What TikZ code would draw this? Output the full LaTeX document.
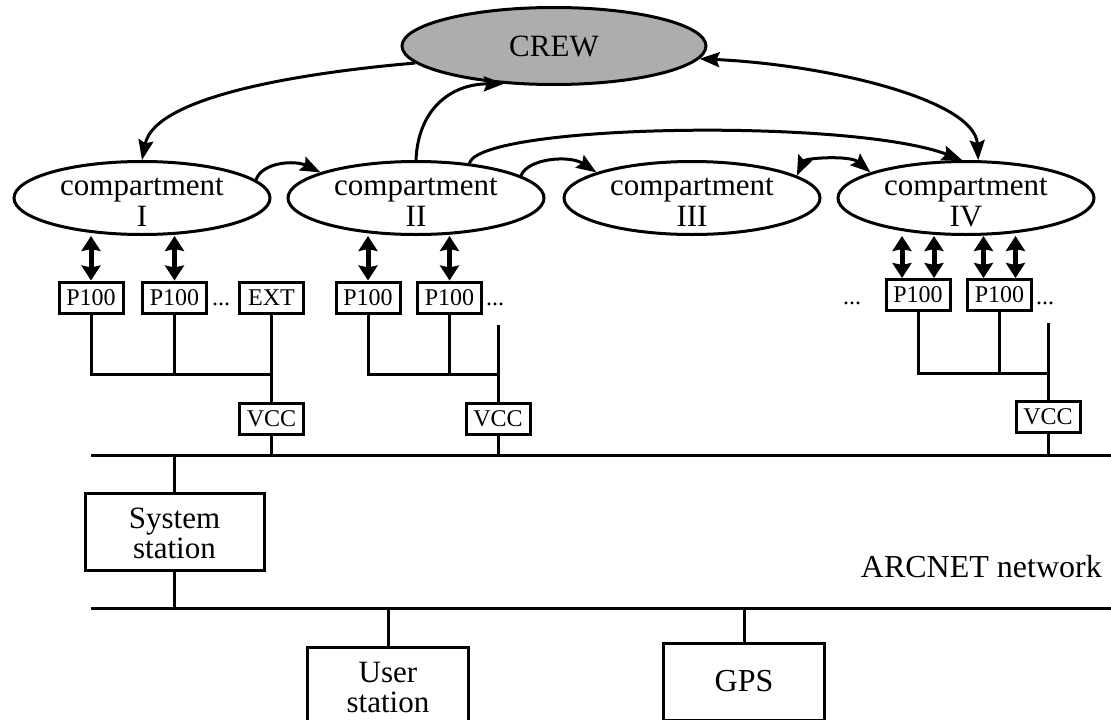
\documentclass[tikz,border=0pt]{standalone}
\usepackage{fontspec}
\setmainfont{Liberation Serif}
\usetikzlibrary{arrows.meta,shapes.geometric}
\newcommand{\compart}[1]{\begin{tabular}{c}
  compartment \\
  #1
\end{tabular}}
\newcommand{\station}[1]{\begin{tabular}{c}
  #1 \\
  station
\end{tabular}}

\begin{document}
\begin{tikzpicture}[x=1pt,y=-1pt,
    comp/.style={draw,ellipse,line width=3pt,minimum width=256pt,minimum height=73pt,inner sep=0pt},
    clbl/.style={yshift=-7pt,font=\fontsize{31}{31}\selectfont},
    unit/.style={draw,rectangle,line width=3pt,minimum width=64pt,minimum height=31pt,inner sep=0pt,font=\fontsize{24}{24}\selectfont},
    more/.style={anchor=base,inner sep=0pt,font=\fontsize{24}{24}\selectfont},
    stat/.style={draw,rectangle,line width=3pt,minimum width=#1,minimum height=77pt,inner sep=0pt},
    slbl/.style={yshift=-6pt,font=\fontsize{31}{30}\selectfont},
    link/.style={line width=3pt},
    arr/.style={line width=3pt,-{Stealth[length=20pt,width=15pt,inset=3pt]}},
    arrr/.style={line width=3pt,{Stealth[length=20pt,width=15pt,inset=3pt]}-{Stealth[length=20pt,width=15pt,inset=3pt]}},
    dbl/.style={line width=5pt,{Stealth[length=15pt,width=19pt,inset=2pt]}-{Stealth[length=15pt,width=19pt,inset=2pt]}}]
    \useasboundingbox (0,0) rectangle (1111,720);
    \clip (0,0) rectangle (1111,720);

    % crew and compartments
    \node[draw,ellipse,line width=3pt,fill=black!32,minimum width=304pt,minimum height=77pt,
      font=\fontsize{31}{31}\selectfont] (crew) at (554,46) {CREW};
    \node[comp,label={[clbl]center:\compart{I}}] (c1) at (142,198) {};
    \node[comp,label={[clbl]center:\compart{II}}] (c2) at (416,198) {};
    \node[comp,label={[clbl]center:\compart{III}}] (c3) at (692,198) {};
    \node[comp,label={[clbl]center:\compart{IV}}] (c4) at (966,198) {};

    \draw[arr] (crew.187) .. controls (310,72) and (155,95) .. (c1.north);
    \draw[arr] (c2.north) .. controls (418,110) and (450,84) .. (crew.217);
    \draw[arr] (c2.33) .. controls (480,124) and (850,118) .. (c4.96);
    \draw[arrr] (crew.-5) .. controls (830,65) and (975,100) .. (c4.72);
    \draw[arr] (c1.9) .. controls (262,162) and (295,160) .. (c2.165);
    \draw[arr] (c2.12) .. controls (528,158) and (570,155) .. (c3.165);
    \draw[arrr] (c3.12) .. controls (805,158) and (850,155) .. (c4.165);

    % units
    \node[unit] (p11) at (91,297.5) {P100};
    \node[unit] (p12) at (174.5,297.5) {P100};
    \node[more] (d1) at (221,305) {...};
    \node[unit] (ext1) at (271.5,297.5) {EXT};
    \node[unit] (p21) at (368,297.5) {P100};
    \node[unit] (p22) at (449.5,297.5) {P100};
    \node[more] (d2) at (495,305) {...};
    \node[more] (d3) at (852,304) {...};
    \node[unit] (p41) at (918,295) {P100};
    \node[unit] (p42) at (999.5,295) {P100};
    \node[more] (d4) at (1045,304) {...};

    \draw[dbl] (p11.north) -- (p11.north |- c1.south);
    \draw[dbl] (p12.north) -- (p12.north |- c1.south);
    \draw[dbl] (p21.north) -- (p21.north |- c2.south);
    \draw[dbl] (p22.north) -- (p22.north |- c2.south);
    \draw[dbl] ([xshift=-16pt]p41.north) -- ([xshift=-16pt]p41.north |- c4.south);
    \draw[dbl] ([xshift=16pt]p41.north) -- ([xshift=16pt]p41.north |- c4.south);
    \draw[dbl] ([xshift=-16pt]p42.north) -- ([xshift=-16pt]p42.north |- c4.south);
    \draw[dbl] ([xshift=16pt]p42.north) -- ([xshift=16pt]p42.north |- c4.south);

    \node[unit] (vcc1) at (271.5,419) {VCC};
    \node[unit] (vcc2) at (498,419) {VCC};
    \node[unit] (vcc4) at (1048,416.5) {VCC};

    \coordinate (busL) at (91,455);
    \coordinate (busR) at (1111,455);
    \coordinate (netL) at (91,608);
    \coordinate (netR) at (1111,608);
    \coordinate (j1) at (271.5,374);
    \coordinate (j2) at (498,374);
    \coordinate (t2) at (498,325);
    \coordinate (j4) at (1048,373);
    \coordinate (t4) at (1048,323);

    \draw[link] (p11) |- (j1);
    \draw[link] (p12) -- (p12 |- j1);
    \draw[link] (ext1) -- (vcc1);
    \draw[link] (p21) |- (j2);
    \draw[link] (p22) -- (p22 |- j2);
    \draw[link] (t2) -- (vcc2);
    \draw[link] (p41) |- (j4);
    \draw[link] (p42) -- (p42 |- j4);
    \draw[link] (t4) -- (vcc4);
    \draw[link] (vcc1) -- (vcc1 |- busL);
    \draw[link] (vcc2) -- (vcc2 |- busL);
    \draw[link] (vcc4) -- (vcc4 |- busL);
    \draw[link] (busL) -- (busR);

    % stations
    \node[stat=179pt,label={[slbl]center:\station{System}}] (sys) at (174.5,531.5) {};
    \node[stat=161pt,label={[slbl]center:\station{User}}] (user) at (388,685.5) {};
    \node[stat=161pt,font=\fontsize{32}{32}\selectfont] (gps) at (744,681.5) {GPS};
    \node[anchor=base east,inner sep=0pt,font=\fontsize{32}{32}\selectfont] (arcnet) at (1102,577) {ARCNET network};

    \draw[link] (sys) -- (sys |- busL);
    \draw[link] (sys) -- (sys |- netL);
    \draw[link] (netL) -- (netR);
    \draw[link] (user) -- (user |- netL);
    \draw[link] (gps) -- (gps |- netL);
  \end{tikzpicture}
\end{document}
